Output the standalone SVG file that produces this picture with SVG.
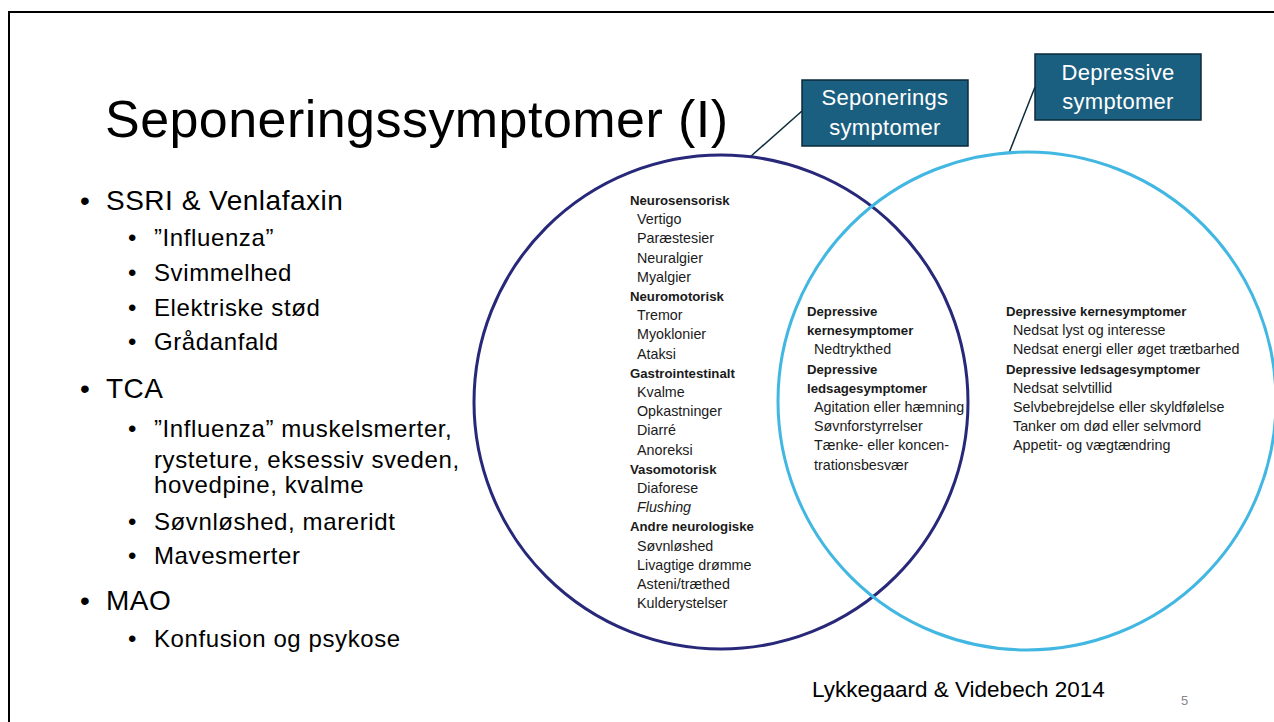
<svg xmlns="http://www.w3.org/2000/svg" width="1274" height="722" viewBox="0 0 1274 722">
<style>
.title{font-family:"Liberation Sans",Arial,sans-serif;font-size:52px;letter-spacing:0.45px;fill:#000}
.b1{font-family:"Liberation Sans",Arial,sans-serif;font-size:28px;letter-spacing:0.5px;fill:#000}
.b2{font-family:"Liberation Sans",Arial,sans-serif;font-size:24px;letter-spacing:0.6px;fill:#000}
.v{font-family:"Liberation Sans",Arial,sans-serif;font-size:14.3px;fill:#1a1a1a}
.h{font-weight:bold;font-size:13.2px}
.lbl{font-family:"Liberation Sans",Arial,sans-serif;font-size:22px;letter-spacing:0.3px;fill:#fff;text-anchor:middle}
.box{fill:#1b5f80;stroke:#0c2a3a;stroke-width:1.5}
.lead{stroke:#0c2a3a;stroke-width:1.5;fill:none}
.foot{font-family:"Liberation Sans",Arial,sans-serif;font-size:22.5px;fill:#000}
</style>
<rect x="0" y="0" width="1274" height="722" fill="#fff"/>
<path d="M8 12 H1274 M9 12 V722" stroke="#000" stroke-width="2" fill="none"/>
<text class="title" x="105" y="137">Seponeringssymptomer (I)</text>
<g id="bullets">
<text class="b1" x="80" y="210">• <tspan x="106">SSRI &amp; Venlafaxin</tspan></text>
<text class="b2" x="128" y="246">• <tspan x="154">”Influenza”</tspan></text>
<text class="b2" x="128" y="281">• <tspan x="154">Svimmelhed</tspan></text>
<text class="b2" x="128" y="316">• <tspan x="154">Elektriske stød</tspan></text>
<text class="b2" x="128" y="350">• <tspan x="154">Grådanfald</tspan></text>
<text class="b1" x="80" y="398">• <tspan x="106">TCA</tspan></text>
<text class="b2" x="128" y="437">• <tspan x="154">”Influenza” muskelsmerter,</tspan></text>
<text class="b2" x="154" y="468">rysteture, eksessiv sveden,</text>
<text class="b2" x="154" y="493">hovedpine, kvalme</text>
<text class="b2" x="128" y="530">• <tspan x="154">Søvnløshed, mareridt</tspan></text>
<text class="b2" x="128" y="564">• <tspan x="154">Mavesmerter</tspan></text>
<text class="b1" x="80" y="610">• <tspan x="106">MAO</tspan></text>
<text class="b2" x="128" y="647">• <tspan x="154">Konfusion og psykose</tspan></text>
</g>
<g id="connectors">
<line class="lead" x1="802" y1="111" x2="750" y2="157"/>
<line class="lead" x1="1035" y1="87" x2="1009" y2="153"/>
</g>
<g id="circle-seponering">
<circle cx="721" cy="402" r="247" fill="none" stroke="#28287a" stroke-width="3"/>
</g>
<g id="circle-depressive">
<circle cx="1027" cy="401" r="249" fill="none" stroke="#42b7e2" stroke-width="3"/>
</g>
<g id="left-list" class="v">
<text x="630" y="205" class="h">Neurosensorisk</text>
<text x="637" y="224.2">Vertigo</text>
<text x="637" y="243.4">Paræstesier</text>
<text x="637" y="262.6">Neuralgier</text>
<text x="637" y="281.8">Myalgier</text>
<text x="630" y="301" class="h">Neuromotorisk</text>
<text x="637" y="320.2">Tremor</text>
<text x="637" y="339.4">Myoklonier</text>
<text x="637" y="358.6">Ataksi</text>
<text x="630" y="377.8" class="h">Gastrointestinalt</text>
<text x="637" y="397">Kvalme</text>
<text x="637" y="416.2">Opkastninger</text>
<text x="637" y="435.4">Diarré</text>
<text x="637" y="454.6">Anoreksi</text>
<text x="630" y="473.8" class="h">Vasomotorisk</text>
<text x="637" y="493">Diaforese</text>
<text x="637" y="512.2" font-style="italic">Flushing</text>
<text x="630" y="531.4" class="h">Andre neurologiske</text>
<text x="637" y="550.6">Søvnløshed</text>
<text x="637" y="569.8">Livagtige drømme</text>
<text x="637" y="589">Asteni/træthed</text>
<text x="637" y="608.2">Kulderystelser</text>
</g>
<g id="mid-list" class="v">
<text x="807" y="316" class="h">Depressive</text>
<text x="807" y="335.2" class="h">kernesymptomer</text>
<text x="814" y="354.4">Nedtrykthed</text>
<text x="807" y="373.6" class="h">Depressive</text>
<text x="807" y="392.8" class="h">ledsagesymptomer</text>
<text x="814" y="412">Agitation eller hæmning</text>
<text x="814" y="431.2">Søvnforstyrrelser</text>
<text x="814" y="450.4">Tænke- eller koncen-</text>
<text x="814" y="469.6">trationsbesvær</text>
</g>
<g id="right-list" class="v">
<text x="1006" y="316" class="h">Depressive kernesymptomer</text>
<text x="1013" y="335.2">Nedsat lyst og interesse</text>
<text x="1013" y="354.4">Nedsat energi eller øget trætbarhed</text>
<text x="1006" y="373.6" class="h">Depressive ledsagesymptomer</text>
<text x="1013" y="392.8">Nedsat selvtillid</text>
<text x="1013" y="412">Selvbebrejdelse eller skyldfølelse</text>
<text x="1013" y="431.2">Tanker om død eller selvmord</text>
<text x="1013" y="450.4">Appetit-  og vægtændring</text>
</g>
<g id="label-seponering">
<rect class="box" x="802" y="80" width="166" height="66"/>
<text class="lbl" x="885" y="105">Seponerings</text>
<text class="lbl" x="885" y="135">symptomer</text>
</g>
<g id="label-depressive">
<rect class="box" x="1035" y="54" width="166" height="66"/>
<text class="lbl" x="1118" y="80">Depressive</text>
<text class="lbl" x="1118" y="109">symptomer</text>
</g>
<text class="foot" x="812" y="697">Lykkegaard &amp; Videbech 2014</text>
<text x="1181" y="705" font-family="Liberation Sans, Arial, sans-serif" font-size="13" fill="#888">5</text>
</svg>
